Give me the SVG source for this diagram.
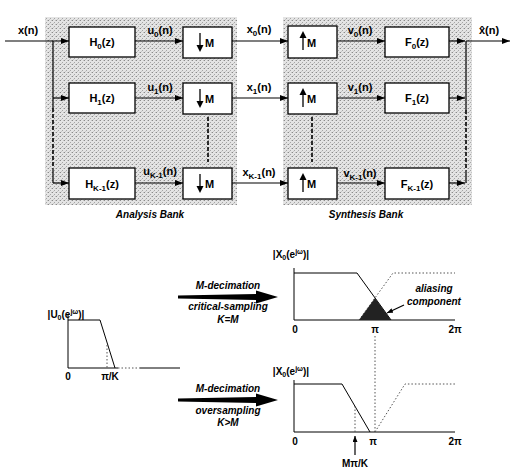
<svg xmlns="http://www.w3.org/2000/svg" width="512" height="470" viewBox="0 0 512 470">
<defs>
<pattern id="dots" width="4" height="4" patternUnits="userSpaceOnUse">
<rect width="4" height="4" fill="#e4e4e4"/>
<rect x="0" y="0" width="1" height="1" fill="#8a8a8a"/>
<rect x="2" y="2" width="1" height="1" fill="#a5a5a5"/>
<rect x="3" y="0" width="1" height="1" fill="#c4c4c4"/>
<rect x="1" y="3" width="1" height="1" fill="#c8c8c8"/>
</pattern>
<marker id="ah" markerWidth="8" markerHeight="6" refX="8" refY="3" orient="auto" markerUnits="userSpaceOnUse">
<path d="M0,0 L8,3 L0,6 Z" fill="#000"/>
</marker>
<marker id="ahs" markerWidth="6" markerHeight="5" refX="6" refY="2.5" orient="auto" markerUnits="userSpaceOnUse">
<path d="M0,0 L6,2.5 L0,5 Z" fill="#000"/>
</marker>
<style>
text{font-family:"Liberation Sans",Arial,sans-serif;fill:#000}
.lb{font-size:11px;font-weight:bold}
.bx{font-size:11px;font-weight:bold;text-anchor:middle}
.it{font-size:10px;font-weight:bold;font-style:italic;text-anchor:middle}
.ax{font-size:10px;font-weight:bold;text-anchor:middle}
.box{fill:#fff;stroke:#000;stroke-width:1.3}
.w{fill:none;stroke:#000;stroke-width:1.2}
.wd{fill:none;stroke:#000;stroke-width:1.6;stroke-dasharray:4 2}
.pl{fill:none;stroke:#000;stroke-width:1}
.dt{fill:none;stroke:#555;stroke-width:1;stroke-dasharray:1.5 2}
</style>
</defs>
<rect x="45" y="17" width="192" height="188" fill="url(#dots)"/>
<rect x="283" y="17" width="189" height="188" fill="url(#dots)"/>

<g id="connectors">
<line class="w" x1="5" y1="41" x2="69" y2="41" marker-end="url(#ah)"/>
<line class="w" x1="53" y1="41" x2="53" y2="108"/>
<line class="wd" x1="53" y1="108" x2="53" y2="168"/>
<line class="w" x1="53" y1="168" x2="53" y2="183"/>
<line class="w" x1="53" y1="98" x2="69" y2="98" marker-end="url(#ah)"/>
<line class="w" x1="53" y1="183" x2="69" y2="183" marker-end="url(#ah)"/>
<line class="w" x1="135" y1="41" x2="183" y2="41" marker-end="url(#ah)"/>
<line class="w" x1="135" y1="98" x2="183" y2="98" marker-end="url(#ah)"/>
<line class="w" x1="135" y1="183" x2="183" y2="183" marker-end="url(#ah)"/>
<line class="w" x1="232" y1="41" x2="288" y2="41" marker-end="url(#ah)"/>
<line class="w" x1="232" y1="98" x2="288" y2="98" marker-end="url(#ah)"/>
<line class="w" x1="232" y1="183" x2="288" y2="183" marker-end="url(#ah)"/>
<line class="w" x1="337" y1="41" x2="385" y2="41" marker-end="url(#ah)"/>
<line class="w" x1="337" y1="98" x2="385" y2="98" marker-end="url(#ah)"/>
<line class="w" x1="337" y1="183" x2="385" y2="183" marker-end="url(#ah)"/>
<line class="w" x1="449" y1="41" x2="465" y2="41" marker-end="url(#ah)"/>
<line class="w" x1="449" y1="98" x2="465" y2="98" marker-end="url(#ah)"/>
<line class="w" x1="449" y1="183" x2="465" y2="183" marker-end="url(#ah)"/>
<line class="w" x1="466" y1="41" x2="466" y2="110"/>
<line class="wd" x1="466" y1="110" x2="466" y2="170"/>
<line class="w" x1="466" y1="170" x2="466" y2="183"/>
<line class="w" x1="466" y1="41" x2="510" y2="41" marker-end="url(#ah)"/>
<line class="wd" x1="208" y1="117" x2="208" y2="162"/>
<line class="wd" x1="312" y1="117" x2="312" y2="162"/>
</g>

<g id="H0"><rect class="box" x="69" y="27" width="66" height="30"/><text class="bx" x="102" y="46">H<tspan font-size="8" dy="3">0</tspan><tspan dy="-3">(z)</tspan></text></g>
<g id="H1"><rect class="box" x="69" y="83" width="66" height="30"/><text class="bx" x="102" y="102">H<tspan font-size="8" dy="3">1</tspan><tspan dy="-3">(z)</tspan></text></g>
<g id="HK1"><rect class="box" x="69" y="168" width="66" height="31"/><text class="bx" x="102" y="188">H<tspan font-size="8" dy="3">K-1</tspan><tspan dy="-3">(z)</tspan></text></g>

<g id="D0"><rect class="box" x="183" y="27" width="49" height="31"/><line x1="200" y1="33" x2="200" y2="46" stroke="#000" stroke-width="1.3"/><path d="M196.5,45 L200,52 L203.5,45 Z"/><text class="lb" x="205" y="47">M</text></g>
<g id="D1"><rect class="box" x="183" y="83" width="49" height="31"/><line x1="200" y1="89" x2="200" y2="102" stroke="#000" stroke-width="1.3"/><path d="M196.5,101 L200,108 L203.5,101 Z"/><text class="lb" x="205" y="103">M</text></g>
<g id="DK1"><rect class="box" x="183" y="168" width="49" height="31"/><line x1="200" y1="174" x2="200" y2="187" stroke="#000" stroke-width="1.3"/><path d="M196.5,186 L200,193 L203.5,186 Z"/><text class="lb" x="205" y="188">M</text></g>

<g id="U0"><rect class="box" x="288" y="26" width="49" height="32"/><line x1="303" y1="37" x2="303" y2="50" stroke="#000" stroke-width="1.3"/><path d="M299.5,38 L303,31 L306.5,38 Z"/><text class="lb" x="307" y="47">M</text></g>
<g id="U1"><rect class="box" x="288" y="83" width="49" height="31"/><line x1="303" y1="94" x2="303" y2="107" stroke="#000" stroke-width="1.3"/><path d="M299.5,95 L303,88 L306.5,95 Z"/><text class="lb" x="307" y="103">M</text></g>
<g id="UK1"><rect class="box" x="288" y="168" width="49" height="31"/><line x1="303" y1="179" x2="303" y2="192" stroke="#000" stroke-width="1.3"/><path d="M299.5,180 L303,173 L306.5,180 Z"/><text class="lb" x="307" y="188">M</text></g>

<g id="F0"><rect class="box" x="385" y="27" width="64" height="30"/><text class="bx" x="417" y="46">F<tspan font-size="8" dy="3">0</tspan><tspan dy="-3">(z)</tspan></text></g>
<g id="F1"><rect class="box" x="385" y="83" width="64" height="30"/><text class="bx" x="417" y="102">F<tspan font-size="8" dy="3">1</tspan><tspan dy="-3">(z)</tspan></text></g>
<g id="FK1"><rect class="box" x="385" y="168" width="64" height="31"/><text class="bx" x="417" y="188">F<tspan font-size="8" dy="3">K-1</tspan><tspan dy="-3">(z)</tspan></text></g>

<g id="labels">
<text class="bx" x="28" y="34">x(n)</text>
<text class="bx" x="489" y="34">x̂(n)</text>
<text class="bx" x="160" y="34">u<tspan font-size="8" dy="3">0</tspan><tspan dy="-3">(n)</tspan></text>
<text class="bx" x="160" y="91">u<tspan font-size="8" dy="3">1</tspan><tspan dy="-3">(n)</tspan></text>
<text class="bx" x="160" y="175">u<tspan font-size="8" dy="3">K-1</tspan><tspan dy="-3">(n)</tspan></text>
<text class="bx" x="259" y="33" font-weight="normal">x<tspan font-size="8" dy="3">0</tspan><tspan dy="-3">(n)</tspan></text>
<text class="bx" x="259" y="91" font-weight="normal">x<tspan font-size="8" dy="3">1</tspan><tspan dy="-3">(n)</tspan></text>
<text class="bx" x="259" y="176" font-weight="normal">x<tspan font-size="8" dy="3">K-1</tspan><tspan dy="-3">(n)</tspan></text>
<text class="bx" x="360" y="34">v<tspan font-size="8" dy="3">0</tspan><tspan dy="-3">(n)</tspan></text>
<text class="bx" x="360" y="91">v<tspan font-size="8" dy="3">1</tspan><tspan dy="-3">(n)</tspan></text>
<text class="bx" x="360" y="177">v<tspan font-size="8" dy="3">K-1</tspan><tspan dy="-3">(n)</tspan></text>
<text class="it" x="150" y="218">Analysis Bank</text>
<text class="it" x="366" y="218">Synthesis Bank</text>
</g>

<g id="plotU">
<text class="ax" x="66" y="318" font-weight="normal">|U<tspan font-size="7" dy="2">0</tspan><tspan dy="-2">(e</tspan><tspan font-size="7" dy="-4">jω</tspan><tspan dy="4">)|</tspan></text>
<line class="pl" x1="68" y1="314" x2="68" y2="368"/>
<line class="pl" x1="68" y1="368" x2="118" y2="368"/>
<line class="dt" x1="118" y1="368" x2="140" y2="368"/>
<line class="pl" x1="140" y1="368" x2="180" y2="368"/>
<polyline class="pl" points="68,320 100,320 115,368"/>
<line class="dt" x1="107" y1="345" x2="107" y2="368"/>
<text class="ax" x="68" y="380">0</text>
<text class="ax" x="110" y="380">π/K</text>
</g>

<g id="arrow1">
<polygon points="178,295.5 256,294 256,290.5 278,297 256,303.5 256,300 178,298.5" fill="#000"/>
<text class="it" x="228" y="289">M-decimation</text>
<text class="it" x="228" y="310">critical-sampling</text>
<text class="it" x="228" y="323">K=M</text>
</g>

<g id="arrow2">
<polygon points="178,398.5 256,397 256,393.5 278,400 256,406.5 256,403 178,401.5" fill="#000"/>
<text class="it" x="228" y="392">M-decimation</text>
<text class="it" x="228" y="414">oversampling</text>
<text class="it" x="228" y="426">K&gt;M</text>
</g>

<g id="plotX1">
<text class="ax" x="291" y="258" font-weight="normal">|X<tspan font-size="7" dy="2">0</tspan><tspan dy="-2">(e</tspan><tspan font-size="7" dy="-4">jω</tspan><tspan dy="4">)|</tspan></text>
<line class="pl" x1="294" y1="268" x2="294" y2="320"/>
<line class="pl" x1="294" y1="320" x2="455" y2="320"/>
<polyline class="pl" points="294,273 357,273 391,320"/>
<polyline class="dt" points="359,320 393,273 455,273"/>
<polygon points="359,320 375,298 391,320" fill="#222"/>
<text class="ax" x="295" y="333">0</text>
<text class="ax" x="375" y="333">π</text>
<text class="ax" x="455" y="333">2π</text>
<text class="it" x="434" y="292">aliasing</text>
<text class="it" x="434" y="305">component</text>
<line class="w" x1="404" y1="305" x2="387" y2="313" marker-end="url(#ahs)"/>
<line class="dt" x1="375" y1="336" x2="375" y2="432"/>
</g>

<g id="plotX2">
<text class="ax" x="291" y="375" font-weight="normal">|X<tspan font-size="7" dy="2">0</tspan><tspan dy="-2">(e</tspan><tspan font-size="7" dy="-4">jω</tspan><tspan dy="4">)|</tspan></text>
<line class="pl" x1="294" y1="380" x2="294" y2="432"/>
<line class="pl" x1="294" y1="432" x2="455" y2="432"/>
<polyline class="pl" points="294,384 342,384 370,432"/>
<polyline class="dt" points="375,432 405,384 455,384"/>
<line class="dt" x1="355" y1="406" x2="355" y2="432"/>
<line class="w" x1="355" y1="455" x2="355" y2="436" marker-end="url(#ahs)"/>
<text class="ax" x="295" y="445">0</text>
<text class="ax" x="373" y="445">π</text>
<text class="ax" x="455" y="445">2π</text>
<text class="ax" x="355" y="467">Mπ/K</text>
</g>
</svg>
